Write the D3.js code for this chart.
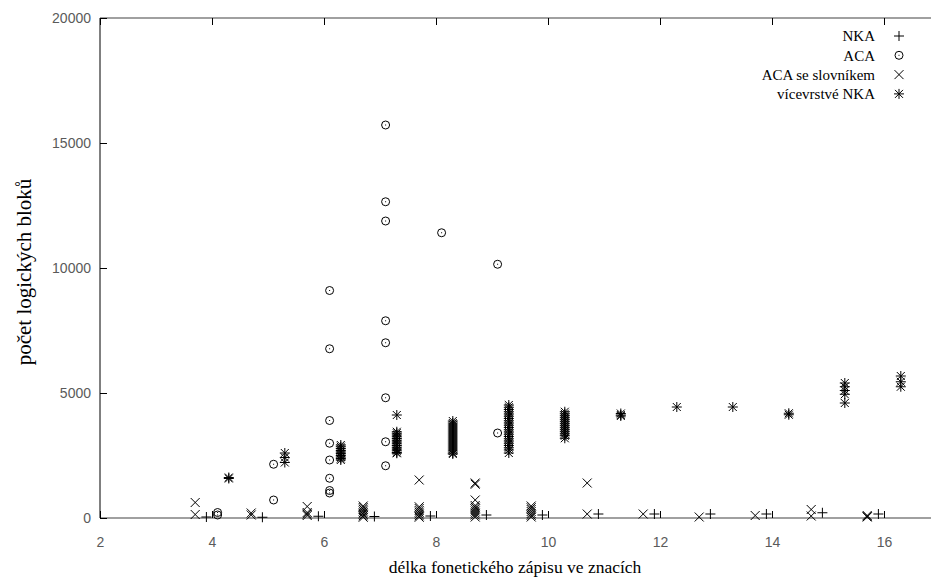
<!DOCTYPE html>
<html>
<head>
<meta charset="utf-8">
<script src="https://cdn.jsdelivr.net/npm/d3@7"></script>
<style>
  html, body { margin: 0; padding: 0; background: #fff; }
  svg { display: block; }
</style>
</head>
<body>
<svg id="chart" width="931" height="580"></svg>
<script>
// ---- data ----
const lengths = [4, 5, 6, 7, 8, 9, 10, 11, 12, 13, 14, 15, 16];
const xTicks = [2, 4, 6, 8, 10, 12, 14, 16];
const yTicks = [0, 5000, 10000, 15000, 20000];
const seriesNames = ["NKA", "ACA", "ACA se slovníkem", "vícevrstvé NKA"];

// values per length (same order as `lengths`)
const nka = [[40], [30], [70], [60], [80], [120], [120], [160], [160], [160], [160], [210], [160]];
const aca = [
  [120, 220],
  [2150, 720],
  [9100, 6770, 3900, 2990, 2320, 1590, 1100, 1000],
  [15720, 12650, 11880, 7890, 7010, 4810, 3050, 2090],
  [11410],
  [10150, 3400],
  [], [], [], [], [], [], []
];
const acaDict = [
  [620, 140],
  [200, 120],
  [460, 220, 160, 100],
  [480, 420, 350, 280, 210, 150, 90, 30],
  [1520, 450, 380, 300, 230, 160, 90, 30],
  [1400, 1350, 720, 500, 430, 360, 280, 200, 120, 40],
  [480, 410, 340, 260, 180, 110, 40],
  [1400, 160],
  [160],
  [40],
  [100],
  [340, 80],
  [100, 60, 40]
];
const multiNka = [
  [1620, 1580],
  [2600, 2420, 2220],
  [2920, 2850, 2780, 2700, 2640, 2580, 2500, 2440, 2380, 2320],
  [4120, 3450, 3390, 3320, 3250, 3180, 3110, 3040, 2970, 2900, 2830, 2760, 2690, 2620, 2590],
  [3880, 3800, 3720, 3640, 3560, 3480, 3400, 3320, 3240, 3160, 3080, 3000, 2920, 2840, 2760, 2680, 2600, 2560],
  [4520, 4430, 4340, 4250, 4160, 4070, 3980, 3890, 3800, 3710, 3620, 3530, 3440, 3350, 3260, 3170, 3080, 2990, 2900, 2810, 2720, 2600],
  [4250, 4170, 4090, 4010, 3930, 3850, 3770, 3690, 3610, 3530, 3450, 3370, 3290, 3190],
  [4180, 4120, 4080],
  [4440],
  [4440],
  [4190, 4130],
  [5400, 5250, 5100, 4950, 4600],
  [5680, 5450, 5250]
];

// ---- layout ----
const svg = d3.select("#chart");
const x = d3.scaleLinear().domain([2, 17]).range([100, 940]);
const y = d3.scaleLinear().domain([0, 20000]).range([518, 18]);

// dodge offset per series (in x units)
const series = [
  { name: seriesNames[0], data: nka, dx: -0.1, shape: "plus" },
  { name: seriesNames[1], data: aca, dx: 0.1, shape: "circle" },
  { name: seriesNames[2], data: acaDict, dx: -0.3, shape: "cross" },
  { name: seriesNames[3], data: multiNka, dx: 0.3, shape: "star" }
];

const shapes = {
  plus: "M-5,0H5M0,-5V5",
  cross: "M-4.5,-4.5L4.5,4.5M-4.5,4.5L4.5,-4.5",
  star: "M-5,0H5M0,-5V5M-4,-4L4,4M-4,4L4,-4"
};

function drawMarker(g, shape) {
  if (shape === "circle") {
    g.append("circle").attr("r", 4).attr("fill", "none").attr("stroke", "#000").attr("stroke-width", 1);
    g.append("rect").attr("x", -0.5).attr("y", -0.5).attr("width", 1).attr("height", 1).attr("fill", "#000");
  } else {
    g.append("path").attr("d", shapes[shape]).attr("fill", "none").attr("stroke", "#000").attr("stroke-width", 1);
  }
}

// ---- axes ----
const fontSans = "'Liberation Sans', Arial, sans-serif";
const fontSerif = "'Liberation Serif', 'Times New Roman', serif";

const xAxis = svg.append("g").attr("transform", `translate(0,${y(0)})`)
  .call(d3.axisBottom(x).tickValues(xTicks).tickSize(-7).tickPadding(19).tickFormat(d3.format("d")));
xAxis.select(".domain").attr("stroke", "#808080").attr("stroke-width", 1.5).attr("d", `M${x(2)},0H931`);
xAxis.selectAll(".tick line").attr("stroke", "#000");
xAxis.selectAll(".tick text").attr("fill", "#5a5a5a").style("font-family", fontSans).style("font-size", "14px");

const topAxis = svg.append("g").attr("transform", `translate(0,${y(20000)})`)
  .call(d3.axisTop(x).tickValues(xTicks).tickSize(-7).tickFormat(""));
topAxis.select(".domain").attr("stroke", "#808080").attr("stroke-width", 1.5).attr("d", `M${x(2)},0H931`);
topAxis.selectAll(".tick line").attr("stroke", "#000");

const yAxis = svg.append("g").attr("transform", `translate(${x(2)},0)`)
  .call(d3.axisLeft(y).tickValues(yTicks).tickSize(-7).tickPadding(9).tickFormat(d3.format("d")));
yAxis.select(".domain").attr("stroke", "#000").attr("stroke-width", 1).attr("d", `M0,${y(0)}V${y(20000)}`);
yAxis.selectAll(".tick line").attr("stroke", "#000");
yAxis.selectAll(".tick text").attr("fill", "#5a5a5a").style("font-family", fontSans).style("font-size", "14px");

// ---- points ----
series.forEach(s => {
  const pts = [];
  lengths.forEach((len, i) => s.data[i].forEach(v => pts.push({ x: len + s.dx, y: v })));
  const g = svg.append("g").attr("class", "series");
  g.selectAll("g.pt").data(pts).enter().append("g")
    .attr("class", "pt")
    .attr("transform", d => `translate(${x(d.x)},${y(d.y)})`)
    .each(function () { drawMarker(d3.select(this), s.shape); });
});

// ---- axis titles ----
svg.append("text")
  .attr("x", 515).attr("y", 573)
  .attr("text-anchor", "middle")
  .style("font-family", fontSerif).style("font-size", "17.5px").attr("fill", "#000")
  .text("délka fonetického zápisu ve znacích");

svg.append("text")
  .attr("transform", `translate(31,272) rotate(-90)`)
  .attr("text-anchor", "middle")
  .style("font-family", fontSerif).style("font-size", "21px").attr("fill", "#000")
  .text("počet logických bloků");

// ---- legend ----
const legend = svg.append("g");
series.forEach((s, i) => {
  const cy = 36 + i * 19.3;
  legend.append("text")
    .attr("x", 875).attr("y", cy).attr("dy", "0.35em")
    .attr("text-anchor", "end")
    .style("font-family", fontSerif).style("font-size", "15px").attr("fill", "#000")
    .text(s.name);
  const mg = legend.append("g").attr("transform", `translate(899,${cy})`);
  drawMarker(mg, s.shape);
});
</script>
</body>
</html>
